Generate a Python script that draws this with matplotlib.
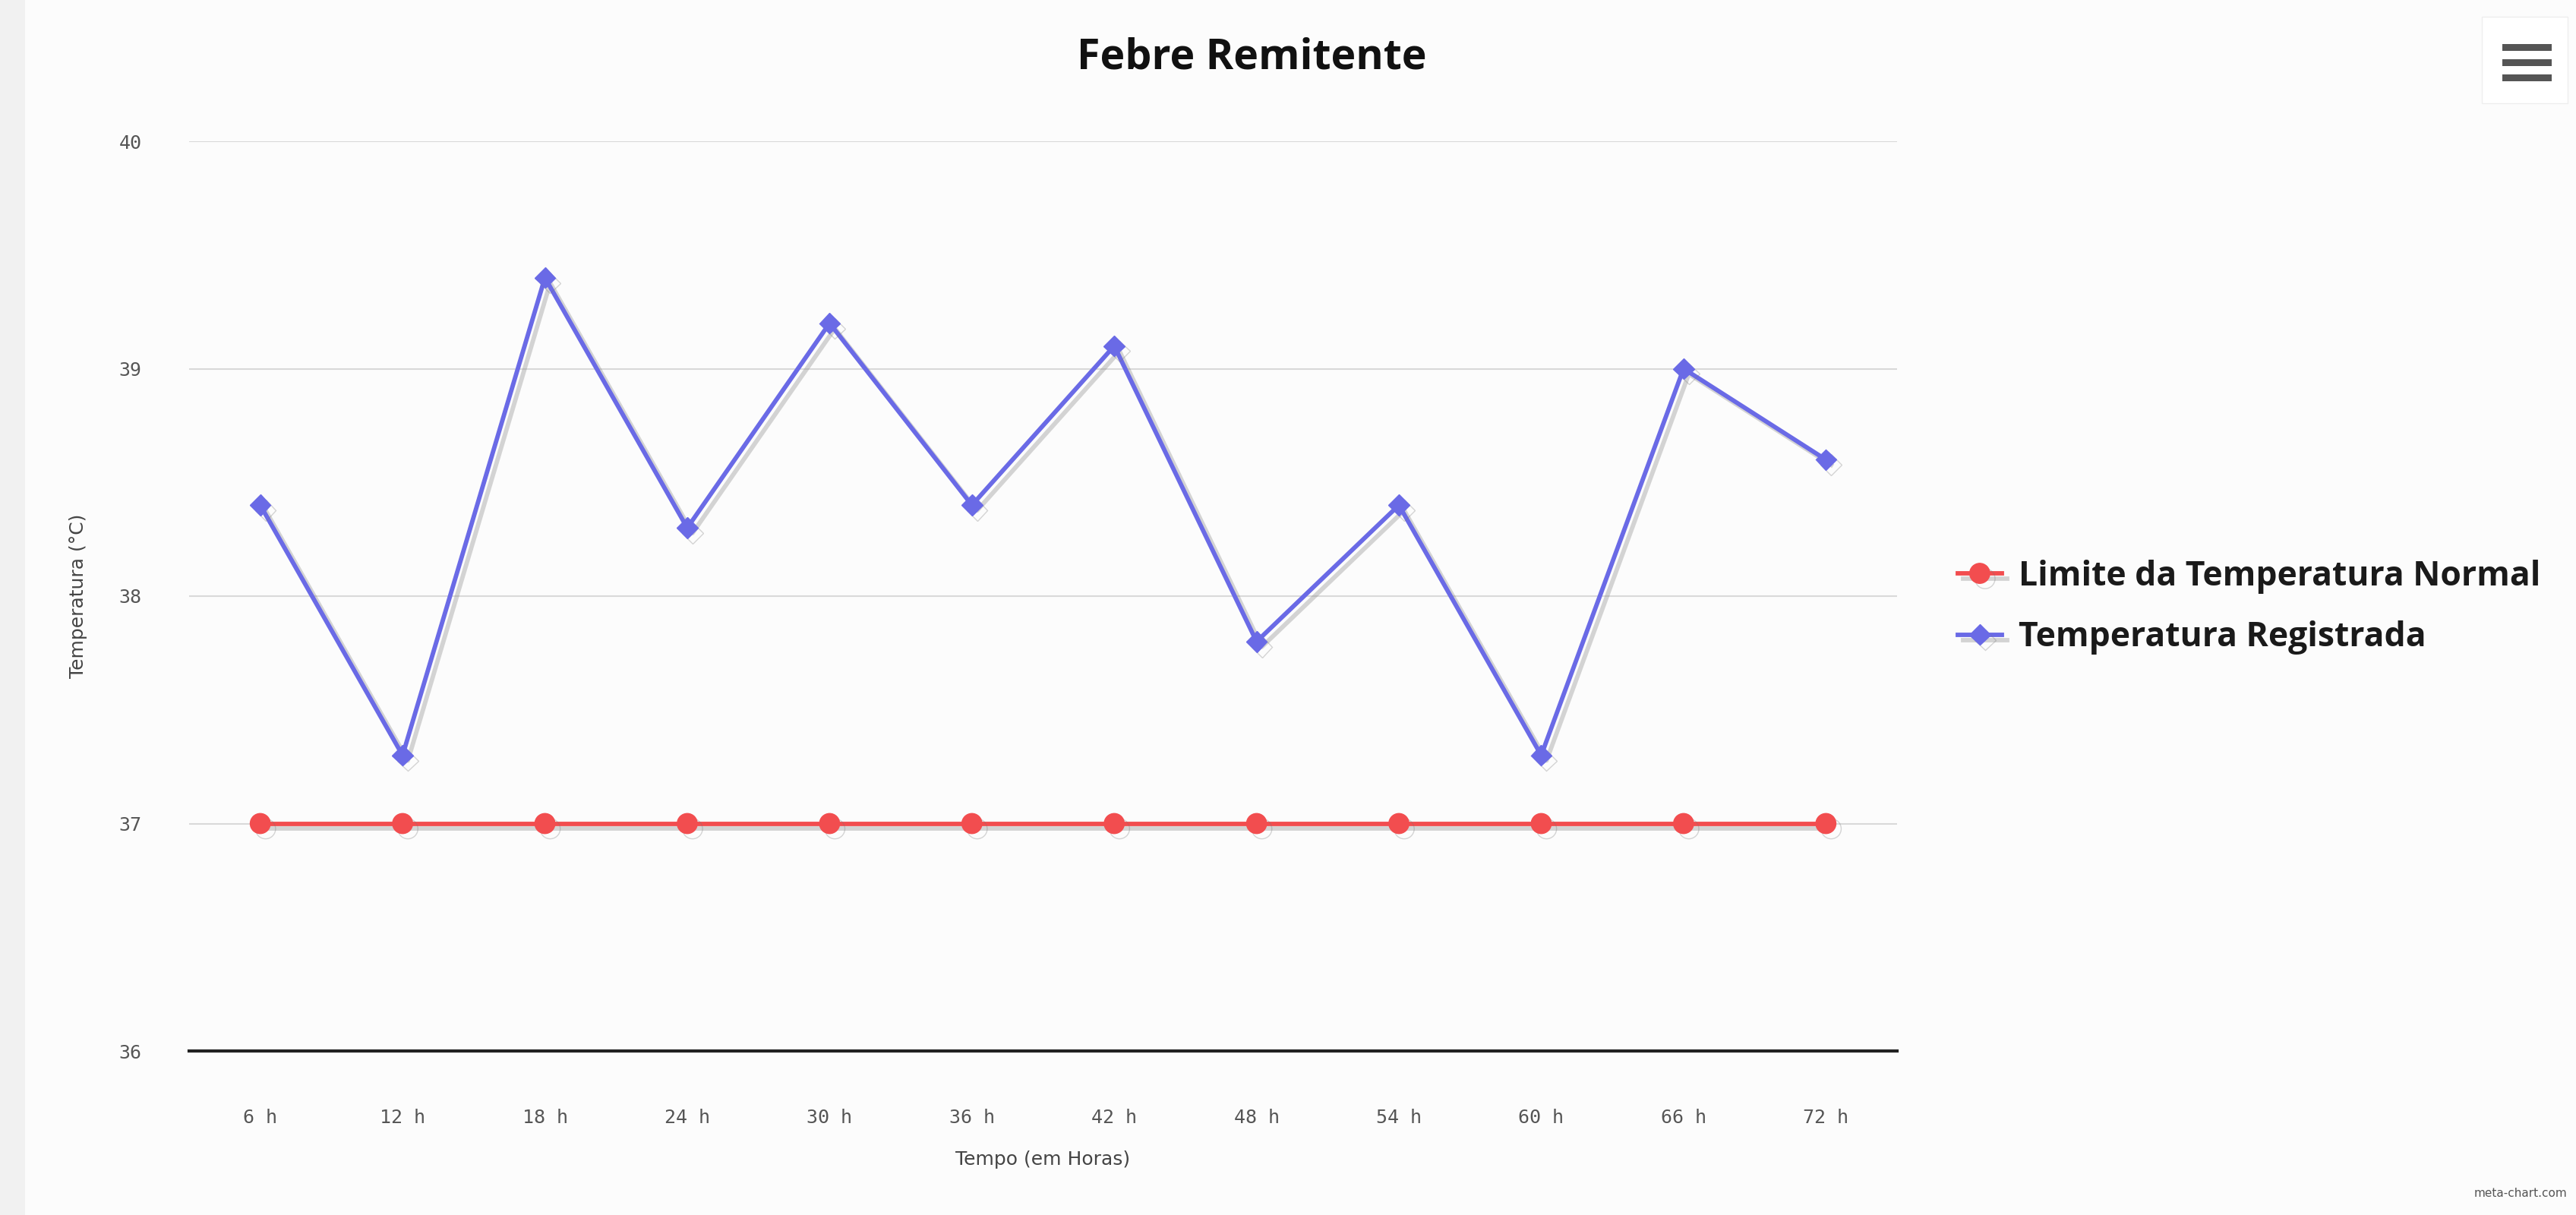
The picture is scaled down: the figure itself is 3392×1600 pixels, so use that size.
import matplotlib
matplotlib.use("Agg")
from matplotlib import pyplot as plt
from matplotlib import patheffects as pe
from matplotlib.patches import Rectangle

# data
horas = ["6 h", "12 h", "18 h", "24 h", "30 h", "36 h", "42 h", "48 h", "54 h", "60 h", "66 h", "72 h"]
limite_normal = [37, 37, 37, 37, 37, 37, 37, 37, 37, 37, 37, 37]
temp_registrada = [38.4, 37.3, 39.4, 38.3, 39.2, 38.4, 39.1, 37.8, 38.4, 37.3, 39.0, 38.6]
y_ticks = [36, 37, 38, 39, 40]

W, H = 3392, 1600
fig = plt.figure(figsize=(W / 100, H / 100), dpi=100, facecolor="#fcfcfc")

# page strip on the far left
fig.patches.append(Rectangle((0, 0), 33 / W, 1, transform=fig.transFigure,
                             facecolor="#f1f1f1", edgecolor="none", zorder=0))

ax = fig.add_axes([249 / W, 1 - 1384 / H, (2498 - 249) / W, (1384 - 186) / H])
ax.set_facecolor("none")

x = list(range(len(horas)))
shadow = [pe.SimpleLineShadow(offset=(5, -5), shadow_color="#777777", alpha=0.3),
          pe.Normal()]

ax.plot(x, limite_normal, color="#f24d4f", lw=4.2, marker="o", ms=19,
        label="Limite da Temperatura Normal", path_effects=shadow, zorder=3)
ax.plot(x, temp_registrada, color="#6a6ae6", lw=4.2, marker="D", ms=14,
        label="Temperatura Registrada", path_effects=shadow, zorder=4)

ax.set_xlim(-0.5, len(horas) - 0.5)
ax.set_ylim(36, 40)
ax.set_xticks(x)
ax.set_xticklabels(horas)
ax.set_yticks(y_ticks)
ax.set_yticklabels([str(v) for v in y_ticks])
ax.grid(axis="y", color="#d9d9d9", lw=1.5)
ax.set_axisbelow(True)
for s in ["top", "right", "left"]:
    ax.spines[s].set_visible(False)
ax.spines["bottom"].set_color("#222222")
ax.spines["bottom"].set_linewidth(3)
ax.tick_params(length=0, labelsize=18, labelcolor="#555555")
for lab in ax.get_xticklabels() + ax.get_yticklabels():
    lab.set_family("DejaVu Sans Mono")
ax.tick_params(axis="x", pad=55)
ax.tick_params(axis="y", pad=45)

ax.set_xlabel("Tempo (em Horas)", fontsize=18, color="#444444", labelpad=22)
ax.set_ylabel("Temperatura (°C)", fontsize=18, color="#444444", labelpad=30)

fig.text(1648 / W, 1 - 76 / H, "Febre Remitente", ha="center", va="center",
         fontsize=40, fontweight="bold", family="Open Sans", color="#111111")

leg = ax.legend(loc="center left", bbox_to_anchor=(1.0, 0.488), frameon=False,
                prop={"family": "Open Sans", "weight": "bold", "size": 32},
                handlelength=1.3, labelspacing=0.8, handletextpad=0.5, borderaxespad=1.4)
for t in leg.get_texts():
    t.set_color("#1a1a1a")

# menu button top right
fig.patches.append(Rectangle((3268 / W, 1 - 136 / H), 113 / W, 114 / H, transform=fig.transFigure,
                             facecolor="white", edgecolor="#eeeeee", lw=1, zorder=1))
for yb in [58, 78, 98]:
    fig.patches.append(Rectangle((3295 / W, 1 - (yb + 9) / H), 65 / W, 9 / H,
                                 transform=fig.transFigure, facecolor="#555555",
                                 edgecolor="none", zorder=2))

fig.text(3380 / W, 1 - 1572 / H, "meta-chart.com", ha="right", va="center",
         fontsize=11, color="#555555")

fig.savefig("out.png", dpi=100, facecolor=fig.get_facecolor())
